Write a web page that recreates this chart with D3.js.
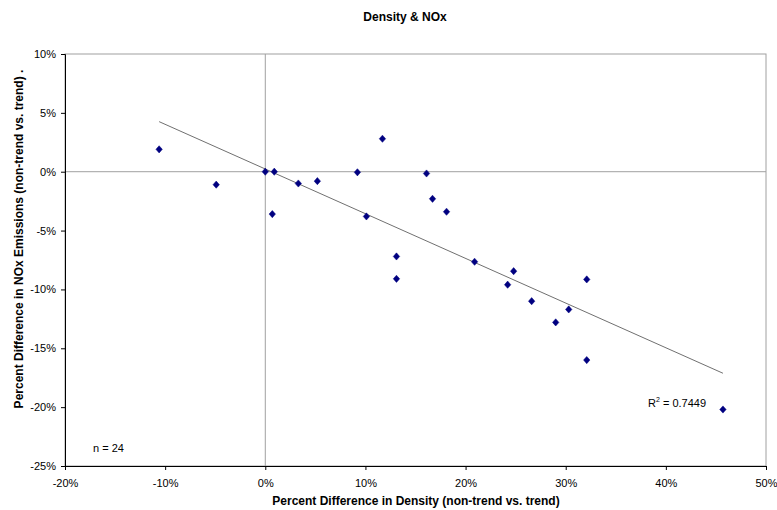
<!DOCTYPE html>
<html>
<head>
<meta charset="utf-8">
<script src="https://cdn.jsdelivr.net/npm/d3@7"></script>
<style>
  body { margin: 0; background: #fff; }
  svg text { font-family: "Liberation Sans", Arial, sans-serif; }
</style>
</head>
<body>
<div id="chart"></div>
<script>
// data (percent)
var densityDiff = [-10.6, -4.9, 0.0, 0.9, 0.7, 3.3, 5.2, 9.2, 11.7, 10.1, 13.1, 13.1,
                   16.1, 16.7, 18.1, 20.9, 24.8, 24.2, 26.6, 29.0, 30.3, 32.1, 32.1, 45.7]
var noxDiff = [1.9, -1.1, 0.0, 0.0, -3.6, -1.0, -0.8, -0.05, 2.8, -3.8, -7.2, -9.1,
               -0.15, -2.3, -3.4, -7.65, -8.45, -9.6, -11.0, -12.8, -11.7, -9.15, -16.0, -20.2]
var xTicks = [-20, -10, 0, 10, 20, 30, 40, 50]
var yTicks = [10, 5, 0, -5, -10, -15, -20, -25]
var r2Label = "0.7449"

var width = 777, height = 510
var margin = {left: 65, right: 11, top: 54, bottom: 44}

var svg = d3.select("#chart").append("svg")
            .attr("width", width)
            .attr("height", height)

var x = d3.scaleLinear().domain([-20, 50]).range([margin.left, width - margin.right])
var y = d3.scaleLinear().domain([-25, 10]).range([height - margin.bottom, margin.top])

// plot border (top/right gray)
svg.append("rect")
   .attr("x", x(-20)).attr("y", y(10))
   .attr("width", x(50) - x(-20)).attr("height", y(-25) - y(10))
   .attr("fill", "none").attr("stroke", "#a0a0a0").attr("stroke-width", 1)

// zero lines
svg.append("line")
   .attr("x1", x(-20)).attr("x2", x(50)).attr("y1", y(0)).attr("y2", y(0))
   .attr("stroke", "#a0a0a0")
svg.append("line")
   .attr("x1", x(0)).attr("x2", x(0)).attr("y1", y(10)).attr("y2", y(-25))
   .attr("stroke", "#a0a0a0")

var fmt = function(d) { return d + "%" }

var xAxis = svg.append("g")
   .attr("transform", "translate(0," + y(-25) + ")")
   .call(d3.axisBottom(x).tickValues(xTicks).tickFormat(fmt).tickSize(4).tickPadding(9))
var yAxis = svg.append("g")
   .attr("transform", "translate(" + x(-20) + ",0)")
   .call(d3.axisLeft(y).tickValues(yTicks).tickFormat(fmt).tickSize(4).tickPadding(5))

svg.selectAll(".domain").attr("stroke", "#000")
svg.selectAll(".tick line").attr("stroke", "#000")
svg.selectAll(".tick text").attr("font-size", 11).attr("fill", "#000")
   .attr("font-family", "Liberation Sans, Arial, sans-serif")

// linear trend
var n = densityDiff.length
var mx = d3.mean(densityDiff), my = d3.mean(noxDiff)
var sxy = d3.sum(densityDiff, function(d, i) { return (d - mx) * (noxDiff[i] - my) })
var sxx = d3.sum(densityDiff, function(d) { return (d - mx) * (d - mx) })
var slope = sxy / sxx, icpt = my - slope * mx
var xMin = d3.min(densityDiff), xMax = d3.max(densityDiff)

svg.append("line")
   .attr("x1", x(xMin)).attr("y1", y(icpt + slope * xMin))
   .attr("x2", x(xMax)).attr("y2", y(icpt + slope * xMax))
   .attr("stroke", "#707070").attr("stroke-width", 1)

// markers (excel style diamond)
var diamond = "M0,-3.6L3.2,0L0,3.6L-3.2,0Z"
svg.append("g").selectAll("path")
   .data(densityDiff)
   .enter().append("path")
   .attr("d", diamond)
   .attr("transform", function(d, i) { return "translate(" + x(d) + "," + y(noxDiff[i]) + ")" })
   .attr("fill", "#000080")
   .attr("stroke", "#000080")
   .attr("stroke-width", 0.5)

// title & labels
svg.append("text")
   .attr("x", 405).attr("y", 21)
   .attr("text-anchor", "middle").attr("font-size", 12).attr("font-weight", "bold")
   .text("Density & NOx")

svg.append("text")
   .attr("x", 416).attr("y", 505)
   .attr("text-anchor", "middle").attr("font-size", 12).attr("font-weight", "bold")
   .text("Percent Difference in Density (non-trend vs. trend)")

svg.append("text")
   .attr("transform", "translate(23," + 239 + ") rotate(-90)")
   .attr("text-anchor", "middle").attr("font-size", 12).attr("font-weight", "bold")
   .text("Percent Difference in NOx Emissions (non-trend vs. trend)  .")

var r2 = svg.append("text")
   .attr("x", 648).attr("y", 407)
   .attr("font-size", 11)
r2.append("tspan").text("R")
r2.append("tspan").attr("dy", -5).attr("font-size", 7).text("2")
r2.append("tspan").attr("dy", 5).text(" = " + r2Label)

svg.append("text")
   .attr("x", 93).attr("y", 452)
   .attr("font-size", 11)
   .text("n = " + n)
</script>
</body>
</html>
